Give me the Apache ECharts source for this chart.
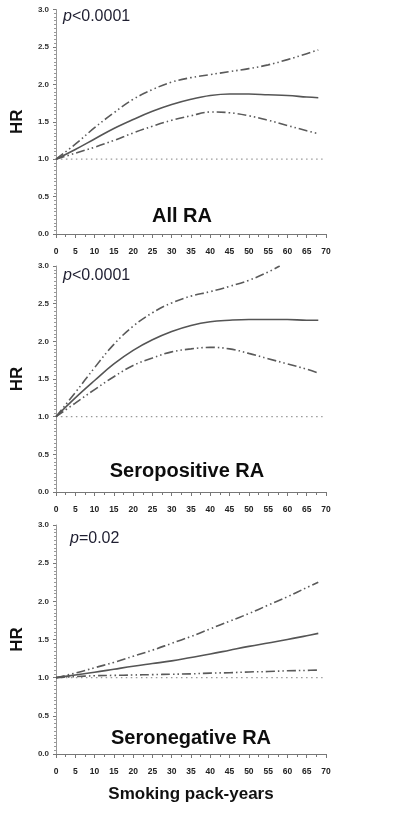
<!DOCTYPE html>
<html>
<head>
<meta charset="utf-8">
<script src="https://cdn.jsdelivr.net/npm/echarts@6/dist/echarts.min.js"></script>
<style>html,body{margin:0;padding:0;background:#fff;}#c{width:400px;height:813px;}</style>
</head>
<body>
<div id="c"></div>
<script>
// ---- data ----
const packYears = [0,5,10,15,20,25,30,35,40,45,50,55,60,65,68];

const allHR    = [1.00,1.13,1.27,1.41,1.53,1.64,1.73,1.80,1.85,1.87,1.87,1.86,1.85,1.83,1.82];
const allUpper = [1.00,1.20,1.42,1.62,1.80,1.93,2.03,2.09,2.13,2.17,2.21,2.26,2.33,2.41,2.46];
const allLower = [1.00,1.08,1.16,1.25,1.35,1.44,1.52,1.58,1.63,1.62,1.58,1.52,1.45,1.38,1.34];

const posHR    = [1.00,1.25,1.48,1.70,1.88,2.02,2.13,2.21,2.26,2.28,2.29,2.29,2.29,2.28,2.28];
const posUpperX = [0,5,10,15,20,25,30,35,40,45,50,55,58];
const posUpper = [1.00,1.32,1.65,1.96,2.20,2.38,2.51,2.60,2.66,2.73,2.81,2.92,3.00];
const posLower = [1.00,1.18,1.36,1.53,1.68,1.78,1.86,1.90,1.92,1.90,1.84,1.77,1.70,1.63,1.58];

const negHR    = [1.00,1.035,1.07,1.11,1.15,1.185,1.22,1.265,1.31,1.36,1.41,1.455,1.50,1.55,1.58];
const negUpper = [1.00,1.06,1.13,1.20,1.28,1.36,1.45,1.54,1.64,1.74,1.84,1.95,2.06,2.18,2.25];
const negLower = [1.00,1.015,1.025,1.03,1.035,1.04,1.045,1.05,1.06,1.065,1.075,1.08,1.09,1.095,1.10];

const refX = [0,70];
const refY = [1,1];

const xTicks = {min:0, max:70, interval:5};
const yTicks = {min:0, max:3, interval:0.5};

const pLabels = ['<0.0001','<0.0001','=0.02'];
const panelLabels = ['All RA','Seropositive RA','Seronegative RA'];
const xTitle = 'Smoking pack-years';
const yTitle = 'HR';

// ---- layout ----
const grids = [
  {left:56, width:270, top:9.5, height:224.5},
  {left:56, width:270, top:266, height:226},
  {left:56, width:270, top:525, height:229}
];
const FONT = '"Liberation Sans", Arial, sans-serif';
const pair = (xs, ys) => ys.map((v,i)=>[xs[i], v]);

const xAxes = grids.map((g,i)=>({
  type:'value', gridIndex:i, min:xTicks.min, max:xTicks.max, interval:xTicks.interval,
  offset:4,
  axisLine:{show:true, lineStyle:{color:'#777', width:1}},
  axisTick:{show:true, inside:false, length:4, lineStyle:{color:'#777'}},
  minorTick:{show:true, splitNumber:2, length:3, lineStyle:{color:'#777'}},
  splitLine:{show:false},
  axisLabel:{fontSize:8.5, fontWeight:'bold', color:'#222', fontFamily:FONT, margin:9},
  name: i===2 ? xTitle : '', nameLocation:'middle', nameGap:28,
  nameTextStyle:{fontSize:17, fontWeight:'bold', color:'#111', fontFamily:FONT}
}));
const yAxes = grids.map((g,i)=>({
  type:'value', gridIndex:i, min:yTicks.min, max:yTicks.max, interval:yTicks.interval,
  offset:3,
  axisLine:{show:true, lineStyle:{color:'#999', width:1}},
  axisTick:{show:true, length:3, lineStyle:{color:'#777'}},
  minorTick:{show:true, splitNumber:10, length:2, lineStyle:{color:'#999'}},
  splitLine:{show:false},
  axisLabel:{fontSize:8, fontWeight:'bold', color:'#333', fontFamily:FONT, margin:4,
    formatter:v=>v.toFixed(1)},
  name:yTitle, nameLocation:'middle', nameGap:27,
  nameTextStyle:{fontSize:17, fontWeight:'bold', color:'#111', fontFamily:FONT}
}));

const ciStyle = {color:'#5a5a5a', width:1.6, type:[9,3,1.5,3,1.5,3]};
const mainStyle = {color:'#555', width:1.6, type:'solid'};
const refStyle = {color:'#999', width:1.2, type:[1.5,3.5]};

function panelSeries(i, hr, up, upX, lo){
  const mk = (data, style, z) => ({type:'line', xAxisIndex:i, yAxisIndex:i, data, smooth:0.4,
    showSymbol:false, symbol:'none', lineStyle:style, z, silent:true, clip:true});
  return [
    mk(pair(refX, refY), refStyle, 1),
    mk(pair(packYears, lo), ciStyle, 2),
    mk(pair(upX, up), ciStyle, 2),
    mk(pair(packYears, hr), mainStyle, 3)
  ];
}

const series = [
  ...panelSeries(0, allHR, allUpper, packYears, allLower),
  ...panelSeries(1, posHR, posUpper, posUpperX, posLower),
  ...panelSeries(2, negHR, negUpper, packYears, negLower)
];

const pPos = [[63,17],[63,276],[70,539]];
const labPos = [[182,216],[187,471],[191,738]];
const graphic = [];
pLabels.forEach((t,i)=>{
  graphic.push({type:'text', x:pPos[i][0], y:pPos[i][1], silent:true,
    style:{text:'{i|p}'+t, verticalAlign:'middle', align:'left',
      font:'16px '+FONT, fill:'#1e1e30',
      rich:{i:{fontStyle:'italic', fontSize:16, fontFamily:FONT, fill:'#1e1e30'}}}});
});
panelLabels.forEach((t,i)=>{
  graphic.push({type:'text', x:labPos[i][0], y:labPos[i][1], silent:true,
    style:{text:t, align:'center', verticalAlign:'middle',
      font:'bold 20px '+FONT, fill:'#0d0d0d'}});
});

const chart = echarts.init(document.getElementById('c'), null, {renderer:'canvas'});
chart.setOption({
  backgroundColor:'#fff',
  animation:false,
  grid:grids,
  xAxis:xAxes,
  yAxis:yAxes,
  series,
  graphic
});
</script>
</body>
</html>
